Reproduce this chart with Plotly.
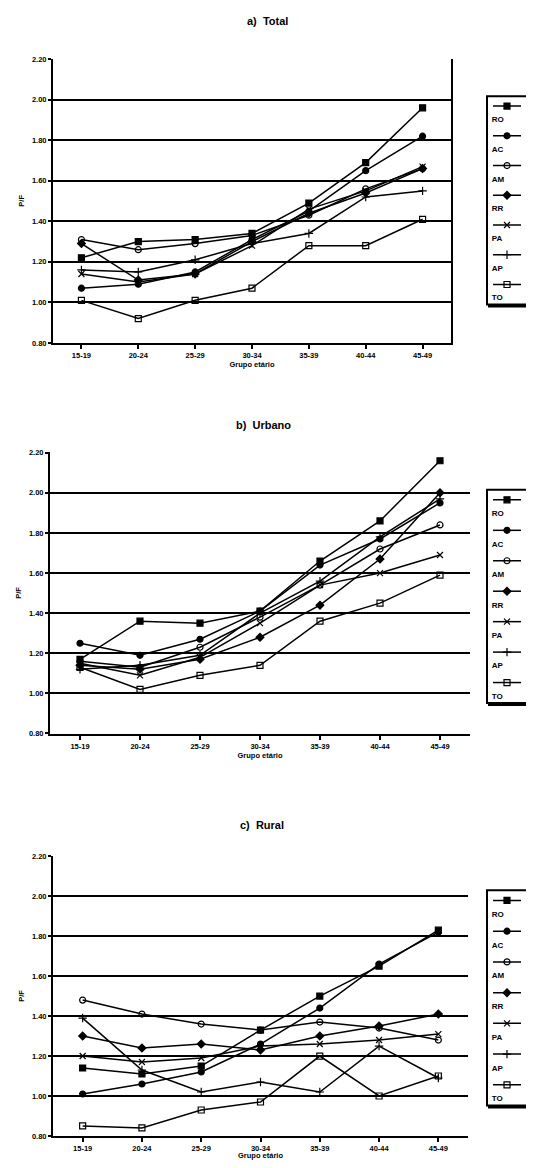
import plotly.graph_objects as go

categories = ["15-19", "20-24", "25-29", "30-34", "35-39", "40-44", "45-49"]
states = ["RO", "AC", "AM", "RR", "PA", "AP", "TO"]
y_ticks = [0.80, 1.00, 1.20, 1.40, 1.60, 1.80, 2.00, 2.20]

# a) Total
total_ro = [1.22, 1.30, 1.31, 1.34, 1.49, 1.69, 1.96]
total_ac = [1.07, 1.09, 1.15, 1.31, 1.45, 1.65, 1.82]
total_am = [1.31, 1.26, 1.29, 1.33, 1.43, 1.56, 1.66]
total_rr = [1.29, 1.11, 1.14, 1.30, 1.44, 1.54, 1.66]
total_pa = [1.14, 1.10, 1.14, 1.28, 1.46, 1.55, 1.67]
total_ap = [1.16, 1.15, 1.21, 1.29, 1.34, 1.52, 1.55]
total_to = [1.01, 0.92, 1.01, 1.07, 1.28, 1.28, 1.41]

# b) Urbano
urbano_ro = [1.17, 1.36, 1.35, 1.41, 1.66, 1.86, 2.16]
urbano_ac = [1.25, 1.19, 1.27, 1.41, 1.64, 1.77, 1.95]
urbano_am = [1.16, 1.13, 1.23, 1.38, 1.54, 1.72, 1.84]
urbano_rr = [1.14, 1.12, 1.17, 1.28, 1.44, 1.67, 2.00]
urbano_pa = [1.15, 1.09, 1.18, 1.35, 1.54, 1.60, 1.69]
urbano_ap = [1.12, 1.14, 1.19, 1.40, 1.56, 1.78, 1.97]
urbano_to = [1.13, 1.02, 1.09, 1.14, 1.36, 1.45, 1.59]

# c) Rural
rural_ro = [1.14, 1.11, 1.15, 1.33, 1.50, 1.65, 1.83]
rural_ac = [1.01, 1.06, 1.12, 1.26, 1.44, 1.66, 1.82]
rural_am = [1.48, 1.41, 1.36, 1.33, 1.37, 1.34, 1.28]
rural_rr = [1.30, 1.24, 1.26, 1.23, 1.30, 1.35, 1.41]
rural_pa = [1.20, 1.17, 1.19, 1.25, 1.26, 1.28, 1.31]
rural_ap = [1.39, 1.13, 1.02, 1.07, 1.02, 1.25, 1.09]
rural_to = [0.85, 0.84, 0.93, 0.97, 1.20, 1.00, 1.10]

panels = [
    ("a)  Total", [total_ro, total_ac, total_am, total_rr, total_pa, total_ap, total_to]),
    ("b)  Urbano", [urbano_ro, urbano_ac, urbano_am, urbano_rr, urbano_pa, urbano_ap, urbano_to]),
    ("c)  Rural", [rural_ro, rural_ac, rural_am, rural_rr, rural_pa, rural_ap, rural_to]),
]

symbols = ["square", "circle", "circle-open", "diamond", "x-thin-open", "cross-thin-open", "square-open"]

# page body has an 8px margin: figure is drawn offset by 8px
OFF = 8
W, H = 534 - OFF, 1168 - 2 * OFF
FONT = "Liberation Sans, Arial, sans-serif"


def px(x):
    return min(max((x - OFF) / W, 0), 1)


def py(y):
    return min(max(1 - (y - OFF) / H, 0), 1)


layout_px = [
    dict(x0=53, x1=451, yt=55, yb=342, title_x=267, title_y=17, box=(487, 527, 93, 303), mirror=True),
    dict(x0=50, x1=470, yt=452, yb=736, title_x=263, title_y=425, box=(487, 527, 490, 705), mirror=False),
    dict(x0=53, x1=468, yt=859, yb=1142, title_x=262, title_y=828, box=(487, 527, 894, 1111), mirror=False),
]

fig = go.Figure()
annotations = []
shapes = []

for p, ((title, series), L) in enumerate(zip(panels, layout_px)):
    ax = p * 2 + 1
    lax = p * 2 + 2
    xa = "x" if ax == 1 else f"x{ax}"
    ya = "y" if ax == 1 else f"y{ax}"
    lxa = f"x{lax}"
    lya = f"y{lax}"

    for name, vals, sym in zip(states, series, symbols):
        fig.add_trace(go.Scatter(
            x=categories, y=vals, mode="lines+markers", name=name,
            xaxis=xa, yaxis=ya, showlegend=False,
            line=dict(color="black", width=1.5),
            marker=dict(symbol=sym, size=6, color="black",
                        line=dict(color="black", width=1.2)),
        ))

    # legend samples (built from the state list)
    for k, (name, sym) in enumerate(zip(states, symbols)):
        fig.add_trace(go.Scatter(
            x=[0.15, 0.5, 0.85], y=[k + 0.33] * 3, mode="lines",
            xaxis=lxa, yaxis=lya, showlegend=False, hoverinfo="skip",
            line=dict(color="black", width=1.5),
        ))
        fig.add_trace(go.Scatter(
            x=[0.5], y=[k + 0.33], mode="markers",
            xaxis=lxa, yaxis=lya, showlegend=False, hoverinfo="skip",
            marker=dict(symbol=sym, size=6, color="black",
                        line=dict(color="black", width=1.2)),
        ))
        fig.add_trace(go.Scatter(
            x=[0.12], y=[k + 0.8], mode="text", text=[name],
            textposition="middle right",
            textfont=dict(family=FONT, size=8, color="black", weight="bold"),
            xaxis=lxa, yaxis=lya, showlegend=False, hoverinfo="skip",
        ))

    xd = [px(L["x0"]), px(L["x1"])]
    yd = [py(L["yb"]), py(L["yt"])]
    bx0, bx1, by0, by1 = L["box"]

    fig.update_layout(**{
        ("xaxis" if ax == 1 else f"xaxis{ax}"): dict(
            domain=xd, anchor=ya, type="category", range=[-0.5, 6.5],
            showline=True, linecolor="black", linewidth=2,
            ticks="outside", ticklen=4, tickwidth=1.5, tickcolor="black",
            showgrid=False, zeroline=False,
            tickfont=dict(family=FONT, size=7.5, color="black", weight="bold"),
            title=dict(text="Grupo etário", standoff=2,
                       font=dict(family=FONT, size=7.5, color="black", weight="bold")),
        ),
        ("yaxis" if ax == 1 else f"yaxis{ax}"): dict(
            domain=yd, anchor=xa, range=[0.799, 2.203],
            tickvals=y_ticks, tickformat=".2f",
            showline=True, linecolor="black", linewidth=2, mirror=L["mirror"],
            ticks="outside", ticklen=3, tickwidth=1.5, tickcolor="black",
            showgrid=True, gridcolor="black", gridwidth=1.8, zeroline=False,
            tickfont=dict(family=FONT, size=7.5, color="black", weight="bold"),
            title=dict(text="P/F", standoff=6,
                       font=dict(family=FONT, size=7.5, color="black", weight="bold")),
        ),
        f"xaxis{lax}": dict(
            domain=[px(bx0), px(bx1)], anchor=lya, range=[0, 1],
            visible=False, fixedrange=True,
        ),
        f"yaxis{lax}": dict(
            domain=[py(by1), py(by0)], anchor=lxa, range=[7, 0],
            visible=False, fixedrange=True,
        ),
    })

    annotations.append(dict(
        text=f"<b>{title}</b>", x=px(L["title_x"]), y=py(L["title_y"]),
        xref="paper", yref="paper",
        showarrow=False, xanchor="center", yanchor="middle",
        font=dict(family=FONT, size=11, color="black"),
    ))
    # legend box shadow and frame
    shapes.append(dict(type="rect", xref="paper", yref="paper",
                       x0=px(bx0 + 2), x1=px(bx1 + 2),
                       y0=py(by1 + 2), y1=py(by0 + 2),
                       line=dict(color="black", width=2), fillcolor="black", layer="below"))
    shapes.append(dict(type="rect", xref="paper", yref="paper",
                       x0=px(bx0), x1=px(bx1), y0=py(by1), y1=py(by0),
                       line=dict(color="black", width=2), fillcolor="white", layer="below"))

fig.update_layout(
    width=W, height=H, margin=dict(l=0, r=0, t=0, b=0),
    paper_bgcolor="white", plot_bgcolor="white",
    annotations=annotations, shapes=shapes, showlegend=False,
    font=dict(family=FONT, color="black"),
)

fig.write_html("out.html")
